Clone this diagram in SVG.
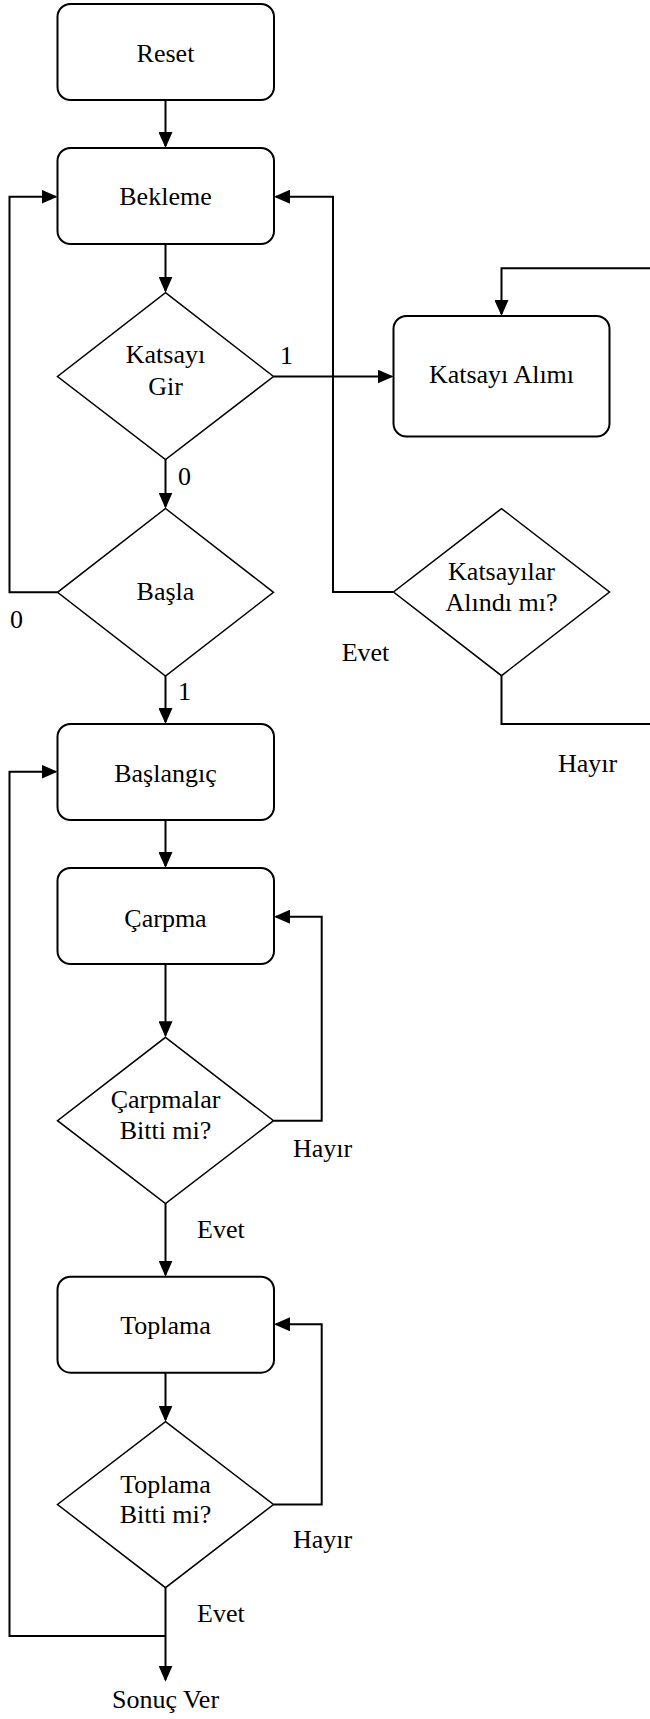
<svg xmlns="http://www.w3.org/2000/svg" width="650" height="1719" viewBox="0 0 650 1719">
  <style>
    .box { fill: #ffffff; stroke: #000000; stroke-width: 2; }
    .dia { fill: #ffffff; stroke: #000000; stroke-width: 1.5; }
    .wire { fill: none; stroke: #000000; stroke-width: 2; }
    .arrow { marker-end: url(#head); }
    text { font-family: "Liberation Serif", "Times New Roman", serif; font-size: 26px; fill: #000000; }
    .c { text-anchor: middle; }
  </style>
  <defs>
    <marker id="head" viewBox="0 0 16 14" refX="14" refY="7" markerWidth="16" markerHeight="14" markerUnits="userSpaceOnUse" orient="auto">
      <path d="M0,0 L16,7 L0,14 z" fill="#000000"/>
    </marker>
  </defs>

  <!-- connectors -->
  <g id="connectors">
    <path class="wire arrow" d="M165.5,100 V146"/>
    <path class="wire arrow" d="M165.5,244 V290.7"/>
    <path class="wire arrow" d="M165.5,459.5 V506.5"/>
    <path class="wire arrow" d="M273.5,376.5 H391.5"/>
    <path class="wire arrow" d="M57.5,592.3 H9.5 V196.7 H55.5"/>
    <path class="wire arrow" d="M393.5,592 H333 V196.7 H276"/>
    <path class="wire" d="M501.5,675.7 V724 H650"/>
    <path class="wire arrow" d="M650,268.3 H501.5 V314"/>
    <path class="wire arrow" d="M165.5,676 V722"/>
    <path class="wire arrow" d="M165.5,820 V866"/>
    <path class="wire arrow" d="M165.5,964 V1035.3"/>
    <path class="wire arrow" d="M273.5,1120.7 H321.7 V916.7 H276"/>
    <path class="wire arrow" d="M165.5,1203.5 V1274.7"/>
    <path class="wire arrow" d="M165.5,1372.7 V1419.7"/>
    <path class="wire arrow" d="M273.5,1504.5 H321.7 V1324.3 H276"/>
    <path class="wire arrow" d="M165.5,1587.7 V1679.7"/>
    <path class="wire arrow" d="M165.5,1636 H9.5 V771.7 H55.5"/>

    <text x="280" y="364">1</text>
    <text x="178" y="485">0</text>
    <text x="10" y="628">0</text>
    <text x="178" y="700">1</text>
    <text x="341.7" y="661">Evet</text>
    <text x="558" y="772">Hayır</text>
    <text x="293" y="1156.7">Hayır</text>
    <text x="197" y="1238.3">Evet</text>
    <text x="293" y="1548.3">Hayır</text>
    <text x="197" y="1621.7">Evet</text>
  </g>

  <!-- states and decisions -->
  <g id="reset">
    <rect class="box" x="57.5" y="4" width="216.5" height="96" rx="13"/>
    <text class="c" x="165.5" y="62">Reset</text>
  </g>
  <g id="bekleme">
    <rect class="box" x="57.5" y="148" width="216.5" height="96" rx="13"/>
    <text class="c" x="165.5" y="205">Bekleme</text>
  </g>
  <g id="katsayi-gir">
    <polygon class="dia" points="165.5,292.7 273.5,376.5 165.5,459.5 57.5,376.5"/>
    <text class="c" x="165.5" y="363">Katsayı</text>
    <text class="c" x="165.5" y="395">Gir</text>
  </g>
  <g id="basla">
    <polygon class="dia" points="165.5,508.5 273.5,592.3 165.5,676 57.5,592.3"/>
    <text class="c" x="165.5" y="600">Başla</text>
  </g>
  <g id="katsayi-alimi">
    <rect class="box" x="393.5" y="316" width="216" height="120.5" rx="13"/>
    <text class="c" x="501.5" y="383">Katsayı Alımı</text>
  </g>
  <g id="katsayilar-alindi">
    <polygon class="dia" points="501.5,508.6 609.5,592 501.5,675.7 393.5,592"/>
    <text class="c" x="501.5" y="580">Katsayılar</text>
    <text class="c" x="501.5" y="611">Alındı mı?</text>
  </g>
  <g id="baslangic">
    <rect class="box" x="57.5" y="724" width="216.5" height="96" rx="13"/>
    <text class="c" x="165.5" y="782">Başlangıç</text>
  </g>
  <g id="carpma">
    <rect class="box" x="57.5" y="868" width="216.5" height="96" rx="13"/>
    <text class="c" x="165.5" y="926.5">Çarpma</text>
  </g>
  <g id="carpmalar-bitti">
    <polygon class="dia" points="165.5,1037.3 273.5,1120.7 165.5,1203.5 57.5,1120.7"/>
    <text class="c" x="165.5" y="1108.3">Çarpmalar</text>
    <text class="c" x="165.5" y="1139.3">Bitti mi?</text>
  </g>
  <g id="toplama">
    <rect class="box" x="57.5" y="1276.7" width="216.5" height="96" rx="13"/>
    <text class="c" x="165.5" y="1334.3">Toplama</text>
  </g>
  <g id="toplama-bitti">
    <polygon class="dia" points="165.5,1421.7 273.5,1504.5 165.5,1587.7 57.5,1504.5"/>
    <text class="c" x="165.5" y="1493.3">Toplama</text>
    <text class="c" x="165.5" y="1523.3">Bitti mi?</text>
  </g>
  <g id="sonuc-ver">
    <text class="c" x="165.5" y="1708">Sonuç Ver</text>
  </g>
</svg>
